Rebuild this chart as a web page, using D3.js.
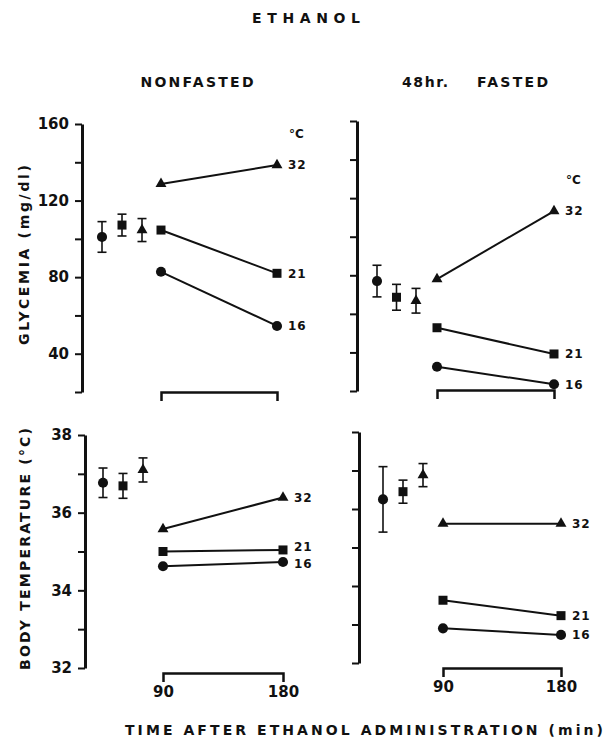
<!DOCTYPE html>
<html>
<head>
<meta charset="utf-8">
<script src="https://cdn.jsdelivr.net/npm/d3@7"></script>
<style>
  body { margin: 0; background: #fff; }
  text { font-family: "DejaVu Sans", sans-serif; font-weight: bold; fill: #111; }
</style>
</head>
<body>
<div id="chart"></div>
<script>
// groups (ambient temperature, deg C) and sampling times
const temps = ["16", "21", "32"];
const times = [90, 180];

const glyTicks = [20, 40, 60, 80, 100, 120, 140, 160];
const glyLabels = [40, 80, 120, 160];
const tempTicks = [32, 33, 34, 35, 36, 37, 38];
const tempLabels = [32, 34, 36, 38];

// glycemia, nonfasted: baseline mean, sem, then [90, 180] per temp
const glyNonfastedBase = [101, 107.2, 104.6];
const glyNonfastedErr = [8, 5.7, 6];
const glyNonfasted = [[82.8, 54.5], [104.6, 82], [128.7, 138.6]];

// glycemia, 48 hr fasted
const glyFastedBase = [77, 68.6, 66.8];
const glyFastedErr = [8.2, 6.7, 6.4];
const glyFasted = [[32.6, 23.5], [52.8, 39.2], [78, 113.3]];

// body temperature, nonfasted
const tempNonfastedBase = [36.77, 36.69, 37.1];
const tempNonfastedErr = [0.38, 0.32, 0.31];
const tempNonfasted = [[34.62, 34.73], [35.0, 35.04], [35.58, 36.39]];

// body temperature, 48 hr fasted
const tempFastedBase = [36.25, 36.45, 36.88];
const tempFastedErr = [0.85, 0.3, 0.3];
const tempFasted = [[32.9, 32.73], [33.63, 33.23], [35.62, 35.62]];

const w = 606, h = 741;
const svg = d3.select("#chart").append("svg").attr("width", w).attr("height", h);

const panels = [
  { base: glyNonfastedBase, err: glyNonfastedErr, lines: glyNonfasted,
    domain: [20, 160], yRange: [392, 124], axisX: 82, baseRange: [102, 142],
    timeRange: [161, 277], bracketY: 392, ticks: glyTicks, labels: glyLabels,
    yText: true, xText: false, labelDy: [0, 0, 0] },
  { base: glyFastedBase, err: glyFastedErr, lines: glyFasted,
    domain: [20, 160], yRange: [391, 121], axisX: 357, baseRange: [377, 416],
    timeRange: [437, 554], bracketY: 390, ticks: glyTicks, labels: glyLabels,
    yText: false, xText: false, labelDy: [0, 0, 0] },
  { base: tempNonfastedBase, err: tempNonfastedErr, lines: tempNonfasted,
    domain: [32, 38], yRange: [668, 435], axisX: 85, baseRange: [103, 143],
    timeRange: [163, 283], bracketY: 673, ticks: tempTicks, labels: tempLabels,
    yText: true, xText: true, noDegC: true, labelDy: [2, -3, 0] },
  { base: tempFastedBase, err: tempFastedErr, lines: tempFasted,
    domain: [32, 38], yRange: [663, 432], axisX: 359, baseRange: [383, 423],
    timeRange: [443, 561], bracketY: 668, ticks: tempTicks, labels: tempLabels,
    yText: false, xText: true, noDegC: true, labelDy: [0, 0, 0] }
];

const symbolTypes = [d3.symbolCircle, d3.symbolSquare, d3.symbolTriangle];
const symbolSizes = [80, 81, 52];

panels.forEach(p => {
  const y = d3.scaleLinear().domain(p.domain).range(p.yRange);
  const xBase = d3.scalePoint().domain(temps).range(p.baseRange);
  const xTime = d3.scaleLinear().domain([90, 180]).range(p.timeRange);
  const g = svg.append("g");

  // y axis
  const yAxis = d3.axisLeft(y)
    .tickValues(p.ticks)
    .tickSize(7)
    .tickSizeOuter(0)
    .tickPadding(6)
    .tickFormat(d => p.yText && p.labels.includes(d) ? d : "");
  const ya = g.append("g").attr("transform", `translate(${p.axisX},0)`).call(yAxis);
  ya.select(".domain").attr("stroke-width", 3).attr("stroke", "#111");
  ya.selectAll(".tick line").attr("stroke-width", 2).attr("stroke", "#111");
  ya.selectAll(".tick text").attr("font-size", 15).attr("font-family", null);

  // time bracket
  const xAxis = d3.axisBottom(xTime)
    .tickValues(times)
    .tickSizeInner(0)
    .tickSizeOuter(9)
    .tickPadding(13)
    .tickFormat(d => p.xText ? d : "");
  const xa = g.append("g").attr("transform", `translate(0,${p.bracketY})`).call(xAxis);
  xa.select(".domain").attr("stroke-width", 2.5).attr("stroke", "#111");
  xa.selectAll(".tick text").attr("font-size", 15).attr("font-family", null);

  // baseline points with error bars
  temps.forEach((t, i) => {
    const cx = xBase(t);
    const m = p.base[i], e = p.err[i];
    g.append("line")
      .attr("x1", cx).attr("x2", cx)
      .attr("y1", y(m - e)).attr("y2", y(m + e))
      .attr("stroke", "#111").attr("stroke-width", 1.6);
    [m - e, m + e].forEach(v => {
      g.append("line")
        .attr("x1", cx - 4.5).attr("x2", cx + 4.5)
        .attr("y1", y(v)).attr("y2", y(v))
        .attr("stroke", "#111").attr("stroke-width", 1.6);
    });
    g.append("path")
      .attr("d", d3.symbol().type(symbolTypes[i]).size(symbolSizes[i])())
      .attr("transform", `translate(${cx},${y(m)})`)
      .attr("fill", "#111");
  });

  // 90 -> 180 min lines
  temps.forEach((t, i) => {
    const vals = p.lines[i];
    g.append("path")
      .datum(vals)
      .attr("d", d3.line().x((d, j) => xTime(times[j])).y(d => y(d)))
      .attr("fill", "none").attr("stroke", "#111").attr("stroke-width", 2);
    vals.forEach((v, j) => {
      g.append("path")
        .attr("d", d3.symbol().type(symbolTypes[i]).size(symbolSizes[i])())
        .attr("transform", `translate(${xTime(times[j])},${y(v)})`)
        .attr("fill", "#111");
    });
    g.append("text")
      .attr("x", xTime(180) + 11)
      .attr("y", y(vals[1]) + p.labelDy[i])
      .attr("dy", "0.36em")
      .attr("font-size", 12)
      .attr("letter-spacing", 1)
      .text(t);
  });

  if (!p.noDegC) {
    g.append("text")
      .attr("x", xTime(180) + 12)
      .attr("y", y(p.lines[2][1]) - 31)
      .attr("dy", "0.36em")
      .attr("font-size", 12)
      .text("°C");
  }
});

// titles
const title = (txt, x, y, len, size, anchor) =>
  svg.append("text")
    .attr("x", x).attr("y", y)
    .attr("dy", "0.36em")
    .attr("text-anchor", anchor || "middle")
    .attr("font-size", size)
    .attr("textLength", len)
    .attr("lengthAdjust", "spacing")
    .text(txt);

title("ETHANOL", 306, 18, 108, 14);
title("NONFASTED", 197, 82, 113, 14);
title("48hr.", 402, 82, 46, 14, "start");
title("FASTED", 477, 82, 71, 14, "start");
title("TIME AFTER ETHANOL ADMINISTRATION (min)", 125, 730, 478, 14, "start");

svg.append("text")
  .attr("transform", "translate(24,255) rotate(-90)")
  .attr("dy", "0.36em")
  .attr("text-anchor", "middle")
  .attr("font-size", 14)
  .attr("textLength", 180)
  .attr("lengthAdjust", "spacing")
  .text("GLYCEMIA (mg/dl)");

svg.append("text")
  .attr("transform", "translate(25,549) rotate(-90)")
  .attr("dy", "0.36em")
  .attr("text-anchor", "middle")
  .attr("font-size", 14)
  .attr("textLength", 242)
  .attr("lengthAdjust", "spacing")
  .text("BODY TEMPERATURE (°C)");
</script>
</body>
</html>
